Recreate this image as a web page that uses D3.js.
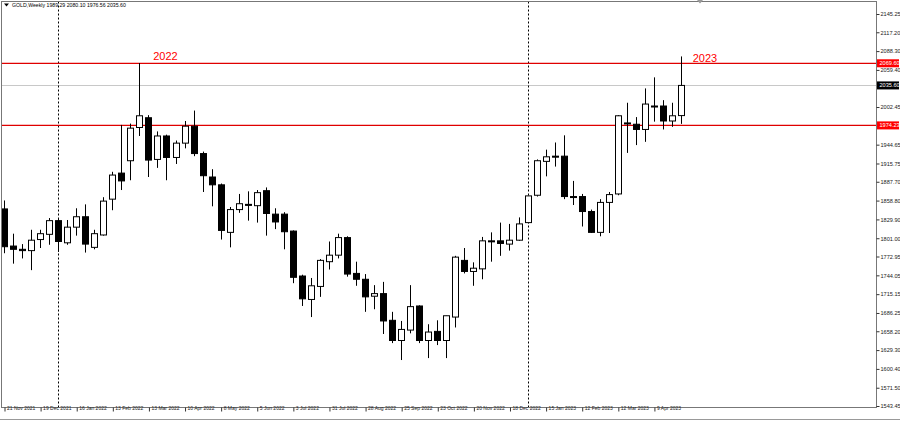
<!DOCTYPE html>
<html><head><meta charset="utf-8">
<script src="https://cdn.jsdelivr.net/npm/d3@7"></script>
<style>
html,body{margin:0;padding:0;background:#fff;}
svg{display:block;font-family:"Liberation Sans",Arial,sans-serif;}
</style></head>
<body>
<svg id="chart" width="900" height="421"></svg>
<script>
const symbolTitle = "GOLD,Weekly";
const weeks = ["2021-11-21","2021-11-28","2021-12-05","2021-12-12","2021-12-19","2021-12-26",
"2022-01-02","2022-01-09","2022-01-16","2022-01-23","2022-01-30","2022-02-06","2022-02-13","2022-02-20","2022-02-27","2022-03-06","2022-03-13","2022-03-20","2022-03-27","2022-04-03","2022-04-10","2022-04-17","2022-04-24","2022-05-01","2022-05-08","2022-05-15","2022-05-22","2022-05-29","2022-06-05","2022-06-12","2022-06-19","2022-06-26","2022-07-03","2022-07-10","2022-07-17","2022-07-24","2022-07-31","2022-08-07","2022-08-14","2022-08-21","2022-08-28","2022-09-04","2022-09-11","2022-09-18","2022-09-25","2022-10-02","2022-10-09","2022-10-16","2022-10-23","2022-10-30","2022-11-06","2022-11-13","2022-11-20","2022-11-27","2022-12-04","2022-12-11","2022-12-18","2022-12-25",
"2023-01-01","2023-01-08","2023-01-15","2023-01-22","2023-01-29","2023-02-05","2023-02-12","2023-02-19","2023-02-26","2023-03-05","2023-03-12","2023-03-19","2023-03-26","2023-04-02","2023-04-09","2023-04-16","2023-04-23","2023-04-30"];
const open  = [1846,1789,1784,1782,1799,1807,1828,1794,1818,1834,1787,1806,1861,1901,1920,1971,1986,1922,1958,1925,1947,1973,1931,1895,1883,1810,1845,1853,1851,1874,1838,1838,1812,1743,1707,1727,1765,1775,1802,1747,1738,1712,1716,1675,1644,1660,1697,1644,1658,1644,1680,1767,1750,1754,1797,1797,1792,1798,1825,1867,1919,1927,1927,1865,1865,1842,1810,1856,1869,1978,1976,1968,2004,2004,1981,1989.29];
const high  = [1859,1808,1792,1814,1814,1832,1832,1829,1847,1853,1814,1864,1903,1975,1977,2070,1990,1965,1960,1951,1981,1997,1934,1907,1885,1849,1869,1873,1875,1879,1847,1841,1813,1745,1740,1769,1796,1808,1804,1765,1746,1729,1734,1688,1674,1729,1698,1669,1675,1682,1774,1786,1764,1803,1810,1825,1823,1833,1866,1922,1937,1948,1959,1889,1869,1845,1861,1872,1990,2009,1987,2031,2048,2013,2009,2080.10];
const low   = [1778,1762,1770,1752,1786,1791,1780,1791,1805,1779,1784,1805,1844,1875,1890,1958,1895,1909,1890,1915,1939,1927,1872,1850,1799,1787,1840,1828,1825,1805,1815,1784,1732,1697,1680,1711,1753,1770,1742,1728,1688,1692,1654,1640,1614,1655,1640,1617,1637,1617,1664,1747,1728,1738,1765,1774,1782,1797,1824,1865,1896,1911,1861,1852,1819,1809,1804,1809,1867,1932,1944,1949,1980,1968,1972,1976.56];
const close = [1788,1784,1782,1798,1808,1828,1796,1818,1834,1792,1808,1858,1898,1889,1970,1989,1921,1958,1925,1947,1973,1931,1897,1883,1813,1845,1854,1852,1871,1839,1826,1811,1741,1708,1728,1767,1775,1802,1746,1738,1711,1716,1674,1644,1661,1696,1644,1657,1644,1682,1772,1750,1755,1797,1796,1793,1798,1823,1866,1920,1926,1926,1865,1864,1842,1810,1856,1868,1989,1977,1968,2007,2003,1981,1989,2035.60];
const priceTicks = [2145.25,2117.20,2088.30,2059.40,2002.45,1944.65,1915.75,1887.70,1858.80,1829.90,1801.00,1772.95,1744.05,1715.15,1686.25,1658.20,1629.30,1600.40,1571.50,1543.45];
const dateTicks = ["2021-11-21","2021-12-19","2022-01-16","2022-02-13","2022-03-13","2022-04-10","2022-05-08","2022-06-05","2022-07-03","2022-07-31","2022-08-28","2022-09-25","2022-10-23","2022-11-20","2022-12-18","2023-01-15","2023-02-12","2023-03-12","2023-04-09"];
const yearStarts = ["2022-01-02","2023-01-01"];
const levelPrices = [2069.60, 1974.23];
const yearLabels = ["2022","2023"];
const yearLabelWeeks = ["2022-03-06","2023-04-30"];
const yearLabelPrices = [2074, 2071];
const currentPrice = 2035.60;

const svg = d3.select("#chart");
const W = 900, H = 421;
const plotL = 1.5, plotR = 876.5, plotT = 1.5, plotB = 407.5;
const parse = d3.utcParse("%Y-%m-%d");
const data = weeks.map((w,i)=>({d:parse(w),o:open[i],h:high[i],l:low[i],c:close[i]}));

const x = d3.scaleUtc().domain([data[0].d, data[data.length-1].d]).range([4, 681]);
const y = d3.scaleLinear().domain([1543.45, 2145.25]).range([406, 14]);
const px = v => Math.round(x(v)) + 0.5;
const f2 = d3.format(".2f");

svg.append("rect").attr("width",W).attr("height",H).attr("fill","#fff");

// current price line
svg.append("line").attr("x1",plotL).attr("x2",plotR)
  .attr("y1",Math.round(y(currentPrice))+0.5).attr("y2",Math.round(y(currentPrice))+0.5)
  .attr("stroke","#c8c8c8").attr("stroke-width",1);

// year separators
svg.selectAll("line.sep").data(yearStarts).join("line").attr("class","sep")
  .attr("x1",d=>px(parse(d))).attr("x2",d=>px(parse(d)))
  .attr("y1",plotT).attr("y2",plotB)
  .attr("stroke","#000").attr("stroke-width",1).attr("stroke-dasharray","2,2");

// level lines
svg.selectAll("line.lvl").data(levelPrices).join("line").attr("class","lvl")
  .attr("x1",plotL).attr("x2",plotR)
  .attr("y1",d=>y(d)).attr("y2",d=>y(d))
  .attr("stroke","#e00000").attr("stroke-width",1.3);

// candles
const g = svg.append("g");
g.selectAll("line.wick").data(data).join("line").attr("class","wick")
  .attr("x1",d=>px(d.d)).attr("x2",d=>px(d.d))
  .attr("y1",d=>y(d.h)).attr("y2",d=>y(d.l))
  .attr("stroke","#000").attr("stroke-width",1);
g.selectAll("rect.body").data(data).join("rect").attr("class","body")
  .attr("x",d=>px(d.d)-3).attr("width",6)
  .attr("y",d=>Math.min(y(d.o),y(d.c)))
  .attr("height",d=>Math.max(1,Math.abs(y(d.o)-y(d.c))))
  .attr("fill",d=>d.c>=d.o?"#fff":"#000")
  .attr("stroke","#000").attr("stroke-width",1);

// year labels
svg.selectAll("text.yr").data(yearLabels).join("text").attr("class","yr")
  .attr("x",(d,i)=>x(parse(yearLabelWeeks[i]))+ (i===0?26:24))
  .attr("y",(d,i)=>y(yearLabelPrices[i]))
  .attr("text-anchor","middle").attr("font-size",11).attr("fill","#ff0000")
  .text(d=>d);

// frame
svg.append("rect").attr("x",plotL).attr("y",plotT).attr("width",plotR-plotL).attr("height",plotB-plotT)
  .attr("fill","none").attr("stroke","#777").attr("stroke-width",1);
svg.append("line").attr("x1",0).attr("x2",W).attr("y1",419.5).attr("y2",419.5).attr("stroke","#999");

// right axis
const yAxis = d3.axisRight(y).tickValues(priceTicks).tickFormat(f2).tickSize(3).tickPadding(1);
const ya = svg.append("g").attr("transform",`translate(${plotR},0)`).call(yAxis);
ya.select(".domain").remove();
ya.selectAll("line").attr("stroke","#333");
ya.selectAll("text").attr("font-size",5.6).attr("fill","#222").attr("font-family","Liberation Sans, Arial");

// bottom axis
const xAxis = d3.axisBottom(x).tickValues(dateTicks.map(parse)).tickFormat(d3.utcFormat("%-d %b %Y")).tickSize(4);
const xa = svg.append("g").attr("transform",`translate(0.5,${plotB})`).call(xAxis);
xa.select(".domain").remove();
xa.selectAll("line").attr("stroke","#333");
xa.selectAll("text").attr("font-size",5).attr("fill","#222").attr("text-anchor","start")
  .attr("dx",2).attr("dy",0).attr("y",2).attr("font-family","Liberation Sans, Arial");

// price boxes on the axis
function priceBox(v, bg){
  const yy = y(v);
  svg.append("rect").attr("x",plotR+0.5).attr("y",yy-4).attr("width",22).attr("height",8).attr("fill",bg);
  svg.append("text").attr("x",plotR+3).attr("y",yy).attr("dy","0.35em")
    .attr("font-size",5.6).attr("fill","#fff").text(f2(v));
}
levelPrices.forEach(v=>priceBox(v,"#ff0000"));
priceBox(currentPrice,"#000");

// header
svg.append("path").attr("d","M4,3.5 L9,3.5 L6.5,6.5 Z").attr("fill","#000");
svg.append("text").attr("x",12).attr("y",5.5).attr("dy","0.35em").attr("font-size",5.2).attr("fill","#000")
  .text(`${symbolTitle}  ${f2(open[open.length-1])} ${f2(high[high.length-1])} ${f2(low[low.length-1])} ${f2(close[close.length-1])}`);

// shift marker
svg.append("path").attr("d","M697,0 L703,0 L700,3.5 Z").attr("fill","#999");
</script>
</body></html>
